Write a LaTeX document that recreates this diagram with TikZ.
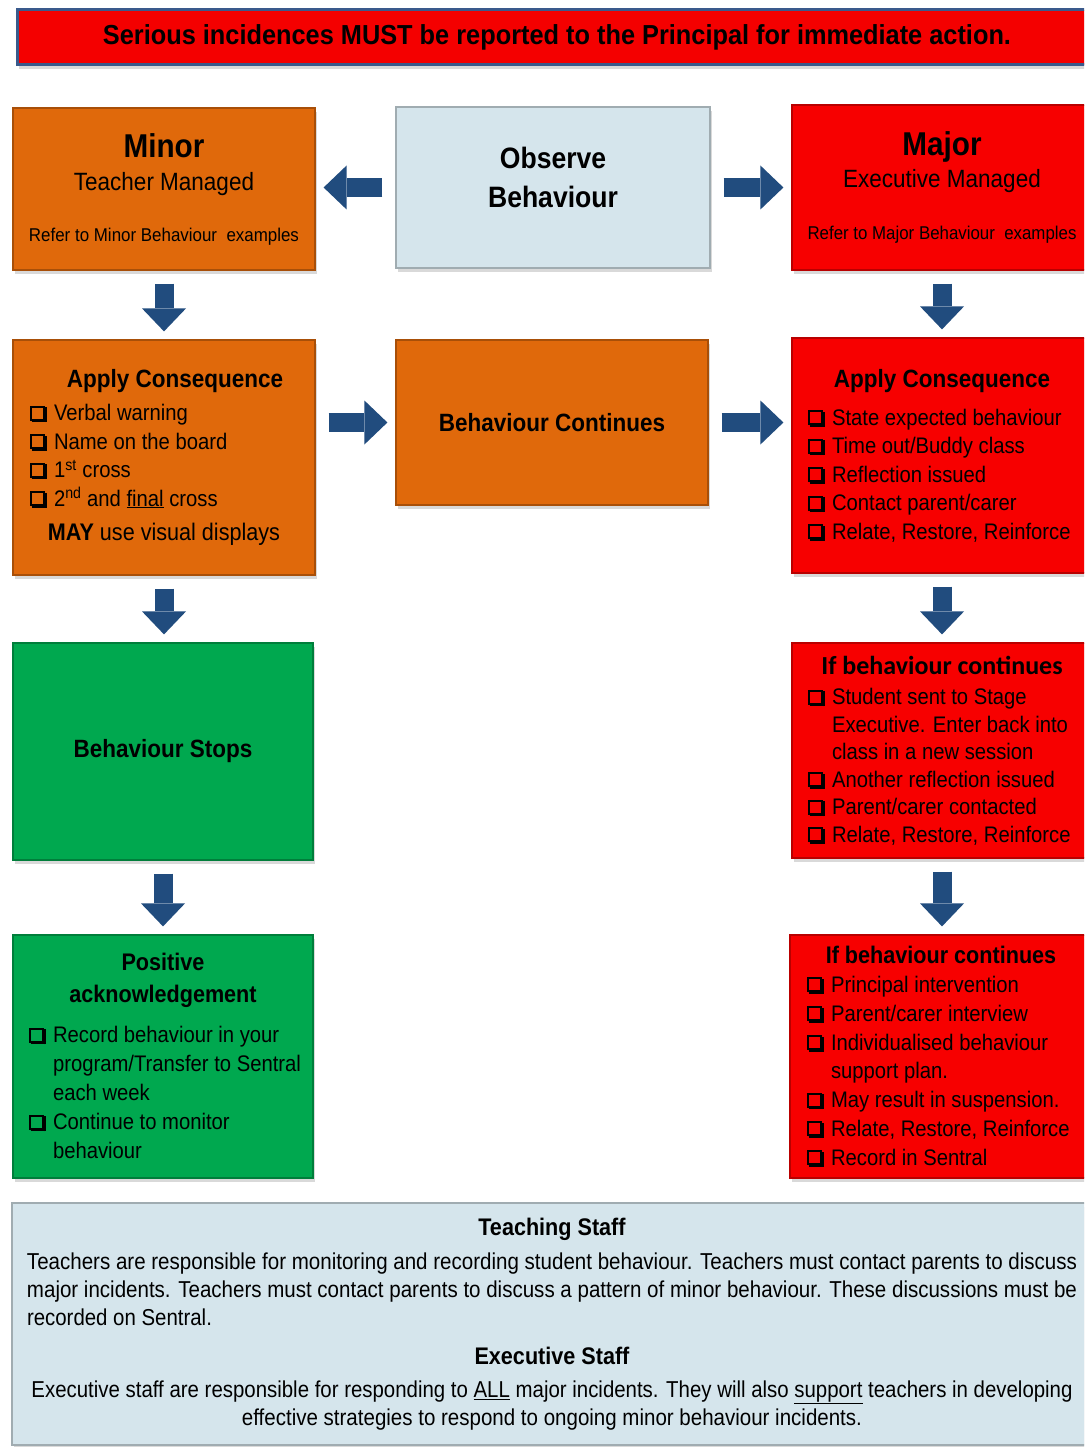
\documentclass[tikz,border=0pt]{standalone}
\usepackage{fontspec}
\setmainfont{Liberation Sans}[FakeStretch=0.9]
\newfontfamily\calfont{Carlito}
\usetikzlibrary{arrows.meta, shadows}

\definecolor{bannerred}{HTML}{F40000}
\definecolor{bannerblue}{HTML}{3A5A8C}
\definecolor{minororange}{HTML}{E0690B}
\definecolor{majorred}{HTML}{F70000}
\definecolor{stopgreen}{HTML}{00A84F}
\definecolor{paleblue}{HTML}{D5E5EC}
\definecolor{arrowblue}{HTML}{214C7E}

\newcommand\fs[2]{\fontsize{#1}{#2}\selectfont}
% shadowed tick box
\newcommand\chk{{\setlength\fboxsep{0pt}\setlength\fboxrule{2pt}%
	\raisebox{2pt}{%
	\makebox[0pt][l]{\hspace{15pt}\raisebox{-3.6pt}{\rule{1.6pt}{15pt}}}%
	\makebox[0pt][l]{\hspace{1.6pt}\raisebox{-3.6pt}{\rule{15pt}{1.6pt}}}%
	\fbox{\rule{0pt}{11pt}\rule{11pt}{0pt}}}\hspace{9pt}}}
\newcommand\itm[1]{\makebox[268pt][l]{\chk #1}}
\newcommand\cnt[1]{\makebox[268pt][l]{\phantom{\chk}#1}}
\newcommand\fitto[2]{\resizebox{#1}{\height}{#2}}

\tikzset{
  box/.style={rectangle, fill=#1, draw=#1!75!black, line width=1.2pt, inner sep=0pt,
    align=center, font=\fs{22.5}{28.5},
    drop shadow={shadow xshift=2pt, shadow yshift=-4pt, opacity=0.3}},
  flow/.style={draw=arrowblue, line width=19pt, shorten <=13pt, shorten >=8pt,
    -{Triangle[width=44pt, length=23pt, line width=0pt]}},
}

\begin{document}
\begin{tikzpicture}[x=1pt, y=-1pt]
	\useasboundingbox (0,0) rectangle (1084,1447);
	\clip (0,0) rectangle (1084,1447);

	% banner
	\node[rectangle, fill=bannerred, draw=bannerblue, line width=3pt, minimum width=1080pt, minimum height=55pt,
		drop shadow={shadow xshift=2pt, shadow yshift=-4pt, opacity=0.3}] (banner) at (557,37.5)
		{\fs{27.5}{30}\bfseries\fitto{908pt}{Serious incidences MUST be reported to the Principal for immediate action.}};

	% top row
	\node[box=minororange, minimum width=302pt, minimum height=162pt] (minor) at (164,189)
		{{\fs{33}{36}\bfseries Minor}\\[5pt]{\fs{25}{28}Teacher Managed}\\[22pt]{\fs{18.5}{20}\fitto{270pt}{Refer to Minor Behaviour\ \ examples}}};
	\node[box=paleblue, minimum width=314pt, minimum height=161pt, font=\fs{29.5}{39}\bfseries] (observe) at (553,187.5)
		{Observe\\Behaviour\\[-19pt]\mbox{}};
	\node[box=majorred, minimum width=300pt, minimum height=165pt] (major) at (942,187.5)
		{{\fs{33}{36}\bfseries Major}\\[3.5pt]{\fs{25}{28}Executive Managed}\\[23pt]{\fs{18.5}{20}\fitto{269pt}{Refer to Major Behaviour\ \ examples}}};

	% second row
	\node[box=minororange, minimum width=302pt, minimum height=235pt] (applyL) at (164,457.5)
		{\hspace*{22pt}{\fs{25}{28}\bfseries Apply Consequence}\\[4.5pt]
		\itm{Verbal warning}\\
		\itm{Name on the board}\\
		\itm{1\textsuperscript{st} cross}\\
		\itm{2\textsuperscript{nd} and \underline{final} cross}\\[6pt]
		{\fs{24}{28}\textbf{MAY} use visual displays}};
	\node[box=minororange, minimum width=312pt, minimum height=165pt, font=\fs{25}{28}\bfseries] (cont) at (552,422.5)
		{Behaviour Continues};
	\node[box=majorred, minimum width=300pt, minimum height=235pt] (applyR) at (942,455.5)
		{{\fs{25}{28}\bfseries Apply Consequence}\\[9.5pt]
		\itm{State expected behaviour}\\
		\itm{Time out/Buddy class}\\
		\itm{Reflection issued}\\
		\itm{Contact parent/carer}\\
		\itm{Relate, Restore, Reinforce}};

	% third row
	\node[box=stopgreen, minimum width=300pt, minimum height=217pt, font=\fs{25}{28}\bfseries] (stops) at (163,751.5)
		{Behaviour Stops};
	\node[box=majorred, minimum width=300pt, minimum height=215pt, font=\fs{22.5}{27.5}] (cont1) at (942,750.5)
		{{\calfont\fs{26}{28}\bfseries If behaviour continues}\\[3pt]
		\itm{Student sent to Stage}\\
		\cnt{Executive. Enter back into}\\
		\cnt{class in a new session}\\
		\itm{Another reflection issued}\\
		\itm{Parent/carer contacted}\\
		\itm{Relate, Restore, Reinforce}};

	% fourth row
	\node[box=stopgreen, minimum width=300pt, minimum height=243pt, font=\fs{22.5}{29}] (pos) at (163,1056.5)
		{{\fs{24}{28}\bfseries Positive}\\[3pt]{\fs{24}{28}\bfseries acknowledgement}\\[11.5pt]
		\itm{Record behaviour in your}\\
		\cnt{program/Transfer to Sentral}\\
		\cnt{each week}\\
		\itm{Continue to monitor}\\
		\cnt{behaviour}};
	\node[box=majorred, minimum width=302pt, minimum height=243pt, font=\fs{22.5}{28.8}] (cont2) at (941,1056.5)
		{{\fs{24}{28}\bfseries If behaviour continues}\\
		\itm{Principal intervention}\\
		\itm{Parent/carer interview}\\
		\itm{Individualised behaviour}\\
		\cnt{support plan.}\\
		\itm{May result in suspension.}\\
		\itm{Relate, Restore, Reinforce}\\
		\itm{Record in Sentral}};

	% staff notes
	\node[box=paleblue, minimum width=1080pt, minimum height=242pt, font=\fs{23}{28}] (staff) at (552,1324)
		{{\fs{24}{28}\bfseries Teaching Staff}\\[6pt]
		\fitto{1050pt}{Teachers are responsible for monitoring and recording student behaviour. Teachers must contact parents to discuss}\\
		\fitto{1050pt}{major incidents. Teachers must contact parents to discuss a pattern of minor behaviour. These discussions must be}\\
		\makebox[1050pt][l]{\fitto{185pt}{recorded on Sentral.}}\\[11pt]
		{\fs{24}{28}\bfseries Executive Staff}\\[5pt]
		\fitto{1041pt}{Executive staff are responsible for responding to \underline{ALL} major incidents. They will also \underline{support} teachers in developing}\\
		\fitto{620pt}{effective strategies to respond to ongoing minor behaviour incidents.}};

	% arrows
	\draw[flow] (observe.west) -- (observe.west -| minor.east);
	\draw[flow] (observe.east) -- (observe.east -| major.west);
	\draw[flow] (minor) -- (applyL);
	\draw[flow] (major) -- (applyR);
	\draw[flow] (applyL.east |- cont.west) -- (cont.west);
	\draw[flow] (cont.east) -- (cont.east -| applyR.west);
	\draw[flow] (applyL.south) -- (applyL.south |- stops.north);
	\draw[flow] (stops) -- (pos);
	\draw[flow] (applyR) -- (cont1);
	\draw[flow] (cont1.south) -- (cont1.south |- cont2.north);
\end{tikzpicture}
\end{document}
